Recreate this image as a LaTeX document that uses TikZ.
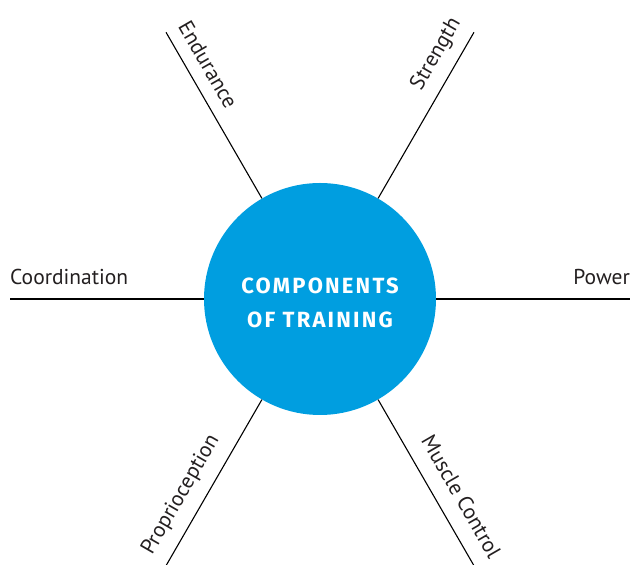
\documentclass[tikz,border=0pt]{standalone}
\usepackage{fontspec}
\setmainfont{PT Sans}
\newfontfamily\titulofonte[LetterSpace=10]{Fira Sans}
\usepackage{xcolor}
\usepackage{tikz}
\usetikzlibrary{calc}
\definecolor{azulcentro}{RGB}{0,158,224}
\definecolor{textocinza}{RGB}{35,31,32}
\tikzset{
    centro/.style={
        circle,
        fill=azulcentro,
        minimum size=232pt,
        inner sep=0pt
    },
    titulo/.style={
        align=center,
        text=white,
        font=\titulofonte\bfseries\fontsize{22}{34}\selectfont
    },
    raio/.style={line width=1.1pt, draw=black},
    rotulo/.style={inner xsep=0pt, inner ysep=7pt, text=textocinza, font=\fontsize{21.5}{24}\selectfont}
}

\begin{document}
\begin{tikzpicture}[x=1pt, y=1pt]
        \useasboundingbox (0,0) rectangle (630,565);
        \node[centro] (hub) at (320,266) {};
        \node[titulo] (tituloHub) at ($(hub.center)+(0,-4)$) {COMPONENTS\\OF TRAINING};
        \coordinate (pEndurance) at ($(hub.center)+(120:308)$);
        \coordinate (pStrength) at ($(hub.center)+(60:308)$);
        \coordinate (pPower) at ($(hub.center)+(0:310)$);
        \coordinate (pMuscle) at ($(hub.center)+(-60:308)$);
        \coordinate (pProprio) at ($(hub.center)+(240:308)$);
        \coordinate (pCoord) at ($(hub.center)+(180:310)$);
        \draw[raio] (hub) -- (pEndurance);
        \draw[raio] (hub) -- (pStrength);
        \draw[raio] (hub) -- (pPower);
        \draw[raio] (hub) -- (pMuscle);
        \draw[raio] (hub) -- (pProprio);
        \draw[raio] (hub) -- (pCoord);
        \node[rotulo, rotate=-60, anchor=south west] (lEndurance) at ($(pEndurance)+(5,2)$) {Endurance};
        \node[rotulo, rotate=60, anchor=south east] (lStrength) at ($(pStrength)+(-3,4)$) {Strength};
        \node[rotulo, anchor=south east, inner ysep=0pt, yshift=14pt] (lPower) at (pPower) {Power};
        \node[rotulo, rotate=-60, anchor=south east] (lMuscle) at ($(pMuscle)+(9,2)$) {Muscle Control};
        \node[rotulo, rotate=60, anchor=south west] (lProprio) at ($(pProprio)+(-4,4)$) {Proprioception};
        \node[rotulo, anchor=south west, inner ysep=0pt, yshift=14pt] (lCoord) at (pCoord) {Coordination};
    \end{tikzpicture}
\end{document}
